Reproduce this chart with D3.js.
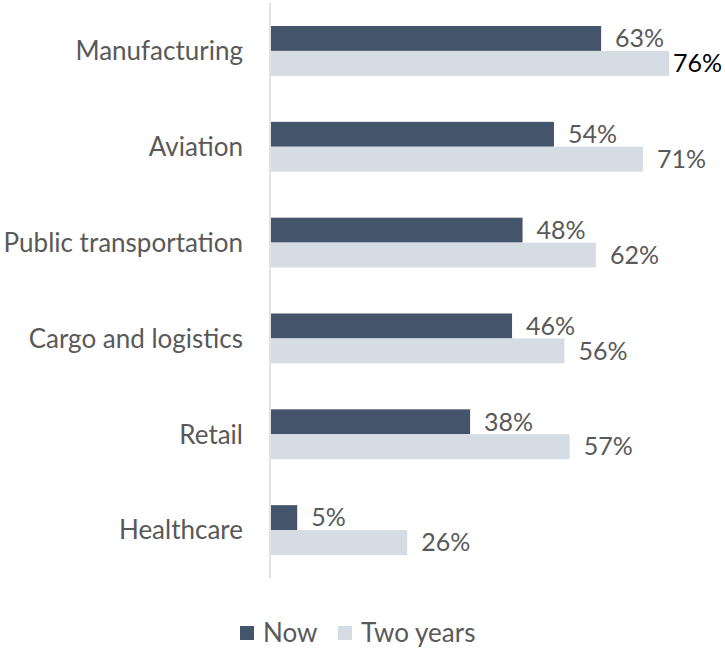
<!DOCTYPE html>
<html>
<head>
<meta charset="utf-8">
<script src="https://cdn.jsdelivr.net/npm/d3@7"></script>
<style>
  html, body { margin: 0; padding: 0; background: #fff; }
  svg { display: block; font-family: Lato, "Open Sans", sans-serif; }
</style>
</head>
<body>
<svg id="chart" width="725" height="648"></svg>
<script>
// Share of respondents by sector
const categories = ["Manufacturing", "Aviation", "Public transportation", "Cargo and logistics", "Retail", "Healthcare"];
const seriesNames = ["Now", "Two years"];
const nowValues = [63, 54, 48, 46, 38, 5];
const twoYearValues = [76, 71, 62, 56, 57, 26];

const colors = { "Now": "#44546a", "Two years": "#d6dce4" };
const textColor = "#595959";
const W = 725;

const svg = d3.select("#chart");
const margin = { left: 271, top: 3, bottom: 70 };
const plotH = 648 - margin.top - margin.bottom;

const x = d3.scaleLinear().domain([0, 100]).range([margin.left, margin.left + 524]);
const y = d3.scaleBand().domain(categories).range([margin.top, margin.top + plotH]).paddingInner(0.48).paddingOuter(0.24);
const ySub = d3.scaleBand().domain(seriesNames).range([0, y.bandwidth()]);

const rows = categories.map((c, i) => ({
  category: c,
  values: [
    { series: "Now", value: nowValues[i] },
    { series: "Two years", value: twoYearValues[i] }
  ]
}));

const groups = svg.selectAll("g.row").data(rows).join("g")
  .attr("class", "row")
  .attr("transform", d => `translate(0,${y(d.category)})`);

groups.selectAll("rect").data(d => d.values).join("rect")
  .attr("x", x(0))
  .attr("y", d => ySub(d.series))
  .attr("width", d => x(d.value) - x(0))
  .attr("height", ySub.bandwidth())
  .attr("fill", d => colors[d.series]);

// value labels; a label that would run past the right edge is pulled back in
groups.selectAll("text.val").data(d => d.values).join("text")
  .attr("class", "val")
  .attr("y", d => ySub(d.series) + ySub.bandwidth() / 2)
  .attr("dy", "0.35em")
  .attr("font-size", 25)
  .attr("fill", textColor)
  .text(d => d.value + "%")
  .each(function (d) {
    const w = this.getComputedTextLength();
    let px = x(d.value) + 14;
    const over = px + w > W - 3;
    if (over) px = W - 3 - w;
    d3.select(this).attr("x", px).attr("fill", over ? "#000" : textColor);
  });

// category axis
const yAxis = d3.axisLeft(y).tickSize(0).tickPadding(27);
const axisG = svg.append("g").attr("transform", `translate(${margin.left - 1},1)`).call(yAxis);
axisG.select(".domain").remove();
axisG.selectAll("text").attr("font-size", 26).attr("fill", textColor).attr("font-family", "Lato, sans-serif");

svg.append("line")
  .attr("x1", margin.left - 1).attr("x2", margin.left - 1)
  .attr("y1", margin.top).attr("y2", margin.top + plotH)
  .attr("stroke", "#d9d9d9").attr("stroke-width", 1.5);

// legend
const legend = svg.append("g").attr("transform", "translate(240,633)");
const legendX = [0, 98];
seriesNames.forEach((s, i) => {
  const g = legend.append("g").attr("transform", `translate(${legendX[i]},0)`);
  g.append("rect").attr("x", 0).attr("y", -7).attr("width", 14).attr("height", 14).attr("fill", colors[s]);
  g.append("text").attr("x", 23).attr("y", 0).attr("dy", "0.35em")
    .attr("font-size", 26).attr("fill", textColor).text(s);
});
</script>
</body>
</html>
